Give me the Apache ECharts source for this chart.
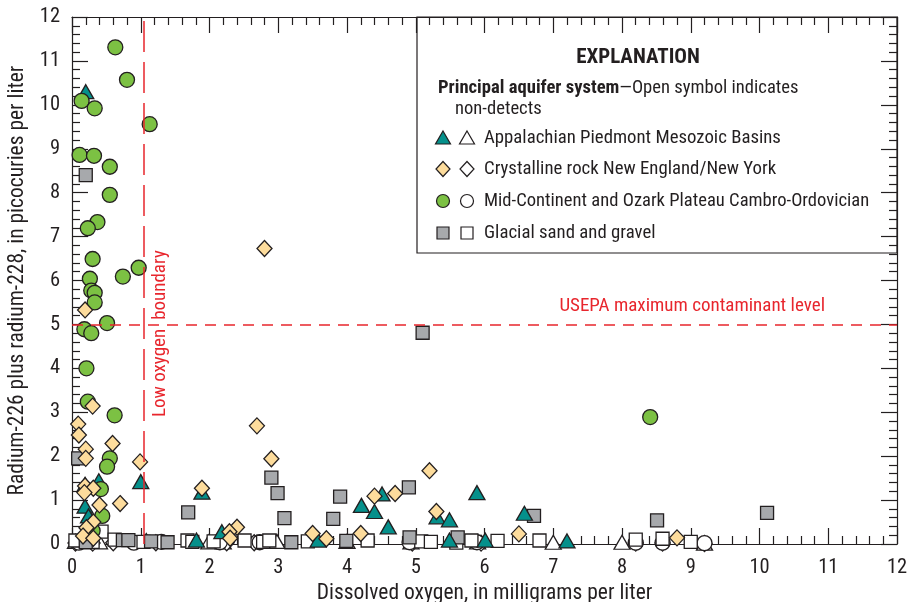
<!DOCTYPE html>
<html><head><meta charset="utf-8">
<script src="https://cdn.jsdelivr.net/npm/echarts@6/dist/echarts.min.js"></script>
<style>html,body{margin:0;padding:0;background:#fff}#c{width:917px;height:602px}</style>
</head><body><div id="c"></div>
<script>
// ---- data (x = dissolved oxygen mg/L, y = Ra-226+Ra-228 pCi/L) ----
const appalachianDetect = [[0.20,10.30],[1.00,1.42],[0.39,1.44],[0.19,1.36],[0.19,0.86],[0.24,0.64],[1.89,1.18],[1.81,0.09],[2.18,0.28],[3.58,0.09],[4.21,0.88],[4.51,1.14],[4.40,0.74],[4.60,0.39],[5.31,0.62],[5.49,0.55],[5.89,1.17],[6.58,0.70],[5.49,0.09],[6.01,0.09],[7.20,0.07]];
const crystallineDetect = [[0.19,5.33],[0.30,3.14],[0.09,2.73],[0.10,2.48],[0.59,2.29],[0.20,2.16],[0.20,1.95],[0.99,1.87],[0.19,1.32],[0.31,1.27],[0.18,1.17],[0.40,0.89],[0.70,0.92],[0.31,0.50],[0.21,0.37],[0.16,0.18],[0.31,0.13],[2.80,6.73],[2.69,2.69],[2.90,1.94],[1.89,1.27],[2.40,0.38],[2.29,0.28],[2.30,0.13],[3.50,0.24],[3.70,0.12],[4.20,0.24],[5.20,1.67],[4.40,1.09],[4.70,1.15],[5.30,0.74],[6.50,0.23],[8.80,0.14]];
const midContDetect = [[0.63,11.31],[0.80,10.57],[0.14,10.09],[0.33,9.92],[1.13,9.56],[0.11,8.86],[0.32,8.84],[0.55,8.59],[0.55,7.95],[0.37,7.33],[0.23,7.19],[0.30,6.49],[0.97,6.29],[0.74,6.09],[0.26,6.04],[0.28,5.77],[0.33,5.72],[0.33,5.50],[0.51,5.03],[0.18,4.89],[0.28,4.80],[0.21,4.00],[0.23,3.24],[0.62,2.93],[0.55,1.95],[0.51,1.76],[0.42,1.25],[0.44,0.64],[0.30,0.30],[8.41,2.89]];
const glacialDetect = [[0.20,8.40],[0.09,1.95],[5.10,4.81],[2.90,1.51],[2.99,1.16],[1.69,0.72],[3.09,0.59],[3.90,1.08],[3.80,0.57],[4.90,1.29],[6.72,0.64],[8.51,0.54],[10.11,0.71],[1.39,0.04],[3.19,0.04],[3.99,0.07],[4.91,0.15],[5.61,0.15],[0.74,0.09],[0.82,0.09],[1.15,0.06],[0.20,0.04]];
const appalachianND = [[0.05,0.06],[0.40,0.05],[1.08,0.08],[1.99,0.05],[2.20,0.05],[2.98,0.06],[4.00,0.06],[4.93,0.05],[5.90,0.05],[7.00,0.04],[8.00,0.04],[9.20,0.02]];
const crystallineND = [[0.05,0.02],[0.30,0.02],[0.60,0.03],[1.22,0.03],[2.25,0.03],[2.65,0.03],[4.95,0.02],[5.95,0.02],[8.20,0.02],[8.59,0.02],[9.20,0.01]];
const midContND = [[0.10,0.03],[0.90,0.03],[1.30,0.05],[2.15,0.04],[2.73,0.04],[4.91,0.04],[5.89,0.04],[8.20,0.03],[8.59,0.03],[9.20,0.02]];
const glacialND = [[0.05,0.08],[0.30,0.05],[0.43,0.28],[0.62,0.10],[1.04,0.05],[1.68,0.08],[1.75,0.05],[2.06,0.06],[2.51,0.08],[2.78,0.05],[2.87,0.08],[3.43,0.06],[4.30,0.08],[5.08,0.06],[5.22,0.05],[5.59,0.03],[5.81,0.08],[6.19,0.07],[6.80,0.08],[8.20,0.10],[8.59,0.12],[9.00,0.05]];
const mclLevel = 5;
const lowOxygenBoundary = 1.05;
const xTickLabels = ['0','1','2','3','4','5','6','7','8','9','10','11','12'];
const yTickLabels = ['0','1','2','3','4','5','6','7','8','9','10','11','12'];

const FONT = "'Roboto Condensed','DejaVu Sans Condensed',sans-serif";
const INK = '#231f20';
const RED = '#e8262d';
const C_TRI = '#05908b', C_DIA = '#fddc9c', C_CIR = '#7cc143', C_SQ = '#a7a9ac';

const chart = echarts.init(document.getElementById('c'), null, {renderer:'canvas'});

function axisCommon(show){
  return {
    type:'value', min:0, max:12, interval:1,
    axisLine:{show:true, onZero:false, lineStyle:{color:INK, width:1.2}},
    axisTick:{show:true, inside:true, length:16, lineStyle:{color:INK, width:1.2}},
    minorTick:{show:true, splitNumber:5, length:8, lineStyle:{color:INK, width:1.2}},
    splitLine:{show:false}, minorSplitLine:{show:false},
    axisLabel:{show:show, fontFamily:FONT, fontSize:20.5, color:INK}
  };
}
const xBottom = Object.assign(axisCommon(true), {position:'bottom',
  name:'Dissolved oxygen, in milligrams per liter', nameLocation:'middle', nameGap:37,
  nameTextStyle:{fontFamily:FONT, fontSize:21.5, color:INK}});
xBottom.axisLabel.margin = 13;
xBottom.axisLabel.formatter = (v)=> xTickLabels[Math.round(v)] ?? '';
const xTop = Object.assign(axisCommon(false), {position:'top'});
const yLeft = Object.assign(axisCommon(true), {position:'left',
  name:'Radium-226 plus radium-228, in picocuries per liter', nameLocation:'middle', nameGap:40,
  nameTextStyle:{fontFamily:FONT, fontSize:21.5, color:INK}});
yLeft.axisLabel.margin = 12;
yLeft.axisLabel.formatter = (v)=> yTickLabels[Math.round(v)] ?? '';
const yRight = Object.assign(axisCommon(false), {position:'right'});

function sc(name, data, symbol, size, fill, z){
  return {type:'scatter', name, data, symbol, symbolSize:size, z,
    xAxisIndex:0, yAxisIndex:0, clip:false,
    itemStyle:{color:fill, borderColor:INK, borderWidth:1.3, opacity:1},
    emphasis:{disabled:true}, silent:true};
}

const series = [
  {type:'scatter', data:[], xAxisIndex:0, yAxisIndex:0, z:1, silent:true,
    markLine:{silent:true, symbol:'none', label:{show:false}, animation:false,
      data:[
        {yAxis:mclLevel, lineStyle:{color:RED, width:1.5, type:[11,8]}},
        {xAxis:lowOxygenBoundary, lineStyle:{color:RED, width:1.5, type:[31,10]}}
      ]}},
  sc('Appalachian ND', appalachianND, 'triangle', [16,14], '#fff', 2),
  sc('Crystalline ND', crystallineND, 'diamond', [15,16], '#fff', 2),
  sc('MidCont ND', midContND, 'circle', 15, '#fff', 2),
  sc('Glacial ND', glacialND, 'rect', 13, '#fff', 2),
  sc('Glacial sand and gravel', glacialDetect, 'rect', 13, C_SQ, 3),
  sc('Appalachian Piedmont Mesozoic Basins', appalachianDetect, 'triangle', [16,14], C_TRI, 3),
  sc('Mid-Continent and Ozark Plateau Cambro-Ordovician', midContDetect, 'circle', 15, C_CIR, 3),
  sc('Crystalline rock New England/New York', crystallineDetect, 'diamond', [15,16], C_DIA, 3)
];

const LX = 443, LX2 = 467, LT = 484;
const rows = [138, 169, 201, 233];
function T(x,y,text,size){
  return {type:'text', x, y, style:{text, font:size+"px "+FONT, fill:INK, textVerticalAlign:'middle'}};
}
const g = [
  {type:'rect', shape:{x:417, y:17, width:480, height:236}, style:{fill:'none', stroke:INK, lineWidth:1.2}, z:0},
  {type:'text', x:638, y:58, style:{text:'EXPLANATION', font:"bold 21px "+FONT, fill:INK, textAlign:'center', textVerticalAlign:'middle'}},
  {type:'text', x:438, y:88, style:{text:'{b|Principal aquifer system}{n|\u2014Open symbol indicates}', textVerticalAlign:'middle',
    rich:{b:{fontFamily:FONT, fontWeight:'bold', fontSize:18.6, fill:INK, color:INK}, n:{fontFamily:FONT, fontSize:18.6, fill:INK, color:INK}}}},
  T(455,109,'non-detects',18.6),
  {type:'polygon', shape:{points:[[LX,rows[0]-7],[LX+7.5,rows[0]+6],[LX-7.5,rows[0]+6]]}, style:{fill:C_TRI, stroke:INK, lineWidth:1.2}},
  {type:'polygon', shape:{points:[[LX2,rows[0]-7],[LX2+7.5,rows[0]+6],[LX2-7.5,rows[0]+6]]}, style:{fill:'#fff', stroke:INK, lineWidth:1.2}},
  T(LT,rows[0],'Appalachian Piedmont Mesozoic Basins',18.8),
  {type:'polygon', shape:{points:[[LX,rows[1]-7.5],[LX+7,rows[1]],[LX,rows[1]+7.5],[LX-7,rows[1]]]}, style:{fill:C_DIA, stroke:INK, lineWidth:1.2}},
  {type:'polygon', shape:{points:[[LX2,rows[1]-7.5],[LX2+7,rows[1]],[LX2,rows[1]+7.5],[LX2-7,rows[1]]]}, style:{fill:'#fff', stroke:INK, lineWidth:1.2}},
  T(LT,rows[1],'Crystalline rock New England/New York',18.8),
  {type:'circle', shape:{cx:LX, cy:rows[2], r:6.5}, style:{fill:C_CIR, stroke:INK, lineWidth:1.2}},
  {type:'circle', shape:{cx:LX2, cy:rows[2], r:6.5}, style:{fill:'#fff', stroke:INK, lineWidth:1.2}},
  T(LT,rows[2],'Mid-Continent and Ozark Plateau Cambro-Ordovician',18.6),
  {type:'rect', shape:{x:LX-6, y:rows[3]-6, width:12, height:12}, style:{fill:C_SQ, stroke:INK, lineWidth:1.2}},
  {type:'rect', shape:{x:LX2-6, y:rows[3]-6, width:12, height:12}, style:{fill:'#fff', stroke:INK, lineWidth:1.2}},
  T(LT,rows[3],'Glacial sand and gravel',18.8),
  {type:'text', x:825, y:306, style:{text:'USEPA maximum contaminant level', font:"19px "+FONT, fill:RED, textAlign:'right', textVerticalAlign:'middle'}},
  {type:'text', x:160, y:373, rotation:Math.PI/2, style:{text:'Low oxygen', font:"19px "+FONT, fill:RED, textAlign:'center', textVerticalAlign:'middle'}},
  {type:'text', x:160, y:285, rotation:Math.PI/2, style:{text:'boundary', font:"19px "+FONT, fill:RED, textAlign:'center', textVerticalAlign:'middle'}}
];

chart.setOption({
  animation:false,
  backgroundColor:'#fff',
  grid:{left:72, right:20, top:17, bottom:58, containLabel:false, outerBoundsMode:'none'},
  xAxis:[xBottom, xTop],
  yAxis:[yLeft, yRight],
  series,
  graphic:g
});
</script></body></html>
